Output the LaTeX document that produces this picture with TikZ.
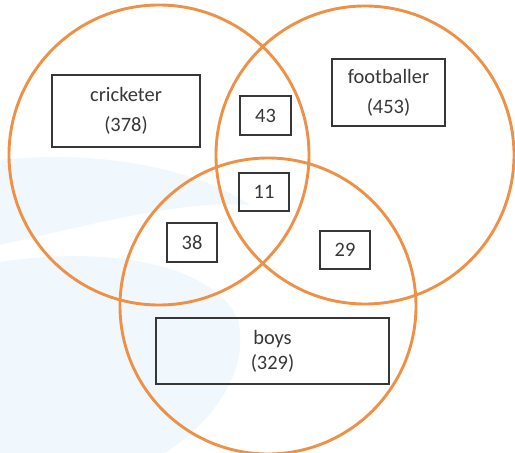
\documentclass[tikz,border=0pt]{standalone}
\usepackage{fontspec}
\setmainfont{Carlito}
\definecolor{vorange}{RGB}{238,145,70}
\definecolor{vgray}{RGB}{55,55,55}
\definecolor{wmblue}{RGB}{240,248,253}
\tikzset{
  setcircle/.style={circle, draw=vorange, line width=2.9bp, minimum size=#1, inner sep=0pt},
  labelbox/.style={draw=vgray, line width=1.2bp, text=vgray, align=center, inner sep=0pt, font=\fontsize{20.5}{30}\selectfont},
  numbox/.style={labelbox, minimum width=50bp, minimum height=38bp},
}
\begin{document}
\begin{tikzpicture}[x=1bp,y=-1bp]
\useasboundingbox (0,0) rectangle (515,453);
% faint watermark
\fill[wmblue] (0,160) .. controls (90,150) and (190,165) .. (250,205)
  .. controls (180,200) and (90,225) .. (0,245) -- cycle;
\fill[wmblue] (0,262) .. controls (110,245) and (215,265) .. (238,320)
  .. controls (250,370) and (215,420) .. (165,453) -- (0,453) -- cycle;
% circles
\node[setcircle=300bp] (cric) at (159,155) {};
\node[setcircle=298bp] (foot) at (365,155) {};
\node[setcircle=296bp] (boyc) at (268,306) {};
% boxes
\node[labelbox, minimum width=148bp, minimum height=72bp] (lcric) at (126,111) {cricketer\\(378)};
\node[labelbox, minimum width=113bp, minimum height=67bp] (lfoot) at (388.5,92.5) {footballer\\(453)};
\node[labelbox, minimum width=233bp, minimum height=66bp, font=\fontsize{20.5}{25}\selectfont] (lboys) at (272.5,351) {boys\\(329)};
\node[numbox, minimum width=51bp, minimum height=39bp] (n43) at (265.5,115.5) {43};
\node[numbox] (n11) at (264,192) {11};
\node[numbox, minimum height=39bp] (n38) at (192,242.5) {38};
\node[numbox] (n29) at (345,250) {29};
\end{tikzpicture}
\end{document}
